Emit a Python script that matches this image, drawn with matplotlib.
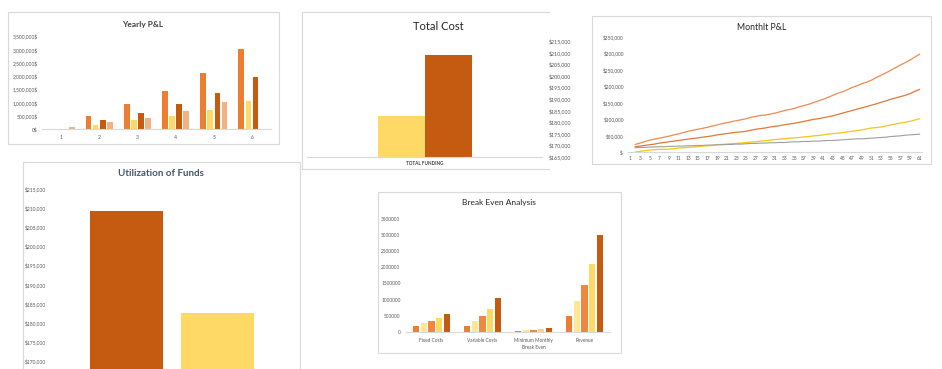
import numpy as np
import matplotlib
matplotlib.use("Agg")
import matplotlib.pyplot as plt
from matplotlib.patches import Rectangle
from matplotlib.lines import Line2D
from matplotlib.ticker import FuncFormatter

plt.rcParams['font.family'] = ['Lato', 'DejaVu Sans']

# ---------------- data ----------------
years = ["1", "2", "3", "4", "5", "6"]
yearly_s1 = [0, 500000, 950000, 1437000, 2112000, 3012000]
yearly_s2 = [0, 162000, 350000, 500000, 725000, 1062000]
yearly_s3 = [0, 350000, 612000, 950000, 1362000, 1962000]
yearly_s4 = [87000, 287000, 425000, 687000, 1025000, 0]

total_cost_category = ["TOTAL FUNDING"]
total_cost_values = [182400, 209000]

util_values = [209300, 182500]

months = list(range(1, 62))
nan = np.nan
monthly_s1 = [nan, 23000, 27000, 32000, 36000, 39000, 42000, 45000, 48000, 52000, 55000,
              59000, 63000, 66000, 69000, 72000, 75000, 79000, 82000, 86000, 89000,
              92000, 95000, 98000, 101000, 105000, 108000, 111000, 112000, 115000, 118000,
              122000, 126000, 129000, 132000, 137000, 141000, 145000, 150000, 155000, 160000,
              166000, 172000, 178000, 183000, 189000, 196000, 201000, 207000, 212000, 218000,
              226000, 233000, 240000, 248000, 256000, 264000, 271000, 279000, 288000, 297000]
monthly_s2 = [nan, 16000, 18000, 20000, 22000, 24000, 27000, 29000, 31000, 33000, 35000,
              37000, 39000, 41000, 43000, 45000, 47000, 49000, 52000, 54000, 56000,
              58000, 60000, 61000, 63000, 66000, 69000, 71000, 73000, 76000, 78000,
              80000, 83000, 85000, 87000, 90000, 93000, 96000, 99000, 101000, 104000,
              107000, 110000, 114000, 118000, 122000, 126000, 130000, 134000, 138000, 142000,
              146000, 151000, 155000, 160000, 164000, 168000, 172000, 177000, 184000, 190000]
monthly_s3 = [nan, 0, 2000, 4000, 6000, 7000, 8000, 8000, 9000, 10000, 12000,
              13000, 14000, 15000, 16000, 18000, 19000, 20000, 22000, 23000, 24000,
              25000, 26000, 27000, 29000, 30000, 31000, 33000, 34000, 36000, 38000,
              39000, 40000, 42000, 43000, 44000, 46000, 47000, 49000, 50000, 52000,
              54000, 56000, 57000, 59000, 61000, 63000, 65000, 67000, 70000, 73000,
              74000, 76000, 79000, 82000, 85000, 88000, 90000, 93000, 97000, 101000]
monthly_s4 = [nan, 13000, 14000, 14000, 15000, 15000, 16000, 16000, 17000, 17000, 18000,
              18000, 19000, 19000, 20000, 20000, 21000, 21000, 22000, 22000, 23000,
              23000, 24000, 24000, 25000, 26000, 26000, 27000, 27000, 28000, 28000,
              29000, 29000, 30000, 31000, 31000, 32000, 32000, 33000, 33000, 34000,
              35000, 35000, 36000, 37000, 38000, 39000, 40000, 40000, 41000, 42000,
              43000, 44000, 45000, 47000, 48000, 49000, 51000, 52000, 53000, 54000]

be_categories = ["Fixed Costs", "Variable Costs", "Minimum Monthly\nBreak Even", "Revenue"]
be_y1 = [185000, 185000, 30000, 500000]
be_y2 = [278000, 340000, 60000, 957000]
be_y3 = [350000, 494000, 70000, 1450000]
be_y4 = [432000, 710000, 90000, 2099000]
be_y5 = [556000, 1049000, 125000, 2994000]

# ---------------- layout helpers ----------------
W, H = 942, 369
fig = plt.figure(figsize=(W / 100, H / 100), dpi=100)
fig.patch.set_facecolor("white")


def box(x0, y0, x1, y1):
    return [x0 / W, 1 - y1 / H, (x1 - x0) / W, (y1 - y0) / H]


def panel(x0, y0, x1, y1, right=True):
    if right:
        fig.patches.append(Rectangle((x0 / W, 1 - y1 / H), (x1 - x0) / W, (y1 - y0) / H,
                                     transform=fig.transFigure, fill=False,
                                     edgecolor="#D9D9D9", linewidth=0.8, zorder=6))
    else:
        xs = [x1 / W, x0 / W, x0 / W, x1 / W]
        ys = [1 - y0 / H, 1 - y0 / H, 1 - y1 / H, 1 - y1 / H]
        fig.lines.append(Line2D(xs, ys, transform=fig.transFigure,
                                color="#D9D9D9", linewidth=0.8, zorder=6))


def ftext(x, y, s, **kw):
    fig.text(x / W, 1 - y / H, s, ha="center", va="center", **kw)


TICK = "#595959"
AXIS = "#D9D9D9"
ORANGE = "#ED7D31"
YELLOW = "#FFD966"
DARK = "#C55A11"
PEACH = "#F4B183"
PALE = "#FFE699"


def style(ax, fs=3.6):
    for s in ["top", "right", "left"]:
        ax.spines[s].set_visible(False)
    ax.spines["bottom"].set_color(AXIS)
    ax.spines["bottom"].set_linewidth(0.8)
    ax.tick_params(axis="both", length=0, labelsize=fs, labelcolor=TICK, pad=1.5)
    ax.set_facecolor("none")


# ---------------- Yearly P&L ----------------
panel(8, 12, 279, 144)
ax1 = fig.add_axes(box(42, 36, 271, 129.3))
style(ax1)
x = np.arange(1, 7)
step, bw = 0.1875, 0.148
for i, (vals, col) in enumerate([(yearly_s1, ORANGE), (yearly_s2, YELLOW),
                                 (yearly_s3, DARK), (yearly_s4, PEACH)]):
    ax1.bar(x + (i - 1.5) * step, vals, width=bw, color=col, edgecolor="none")
ax1.set_xlim(0.5, 6.5)
ax1.set_ylim(0, 3500000)
ax1.set_yticks(np.arange(0, 3500001, 500000))
ax1.yaxis.set_major_formatter(FuncFormatter(lambda v, p: f"{int(v):,}$"))
ax1.set_xticks(x)
ax1.set_xticklabels(years)
ax1.tick_params(axis="y", pad=3)
ax1.tick_params(axis="x", pad=4)
ftext(143, 24.5, "Yearly P&L", fontsize=6, color="#404040", fontweight="bold")

# ---------------- Total Cost ----------------
panel(302, 12, 549, 169, right=False)
ax2 = fig.add_axes(box(307, 41, 542, 156.7))
style(ax2)
ax2.bar([-0.1], [total_cost_values[0]], width=0.2, color=YELLOW, edgecolor="none")
ax2.bar([0.1], [total_cost_values[1]], width=0.2, color=DARK, edgecolor="none")
ax2.set_xlim(-0.5, 0.5)
ax2.set_ylim(165000, 215000)
ax2.yaxis.tick_right()
ax2.set_yticks(np.arange(165000, 215001, 5000))
ax2.yaxis.set_major_formatter(FuncFormatter(lambda v, p: f"${int(v):,}"))
ax2.set_xticks([0])
ax2.set_xticklabels(total_cost_category, fontweight="bold", color="#404040")
ax2.tick_params(axis="x", labelsize=3.3, pad=3)
ax2.tick_params(axis="y", pad=5, labelsize=3.8)
ftext(438.5, 26, "Total Cost", fontsize=8, color="#262626")

# ---------------- Monthly P&L ----------------
panel(592, 16, 931, 164)
ax3 = fig.add_axes(box(628, 36.7, 922, 152))
style(ax3, fs=3.5)
ax3.plot(months, monthly_s1, color="#EE8A50", lw=0.9)
ax3.plot(months, monthly_s2, color="#E07838", lw=0.9)
ax3.plot(months, monthly_s3, color="#F5C518", lw=0.9)
ax3.plot(months, monthly_s4, color="#9E9E9E", lw=0.8)
ax3.set_xlim(0.5, 61.5)
ax3.set_ylim(0, 350000)
ax3.set_yticks(np.arange(0, 350001, 50000))
ax3.yaxis.set_major_formatter(FuncFormatter(lambda v, p: "$-" if v == 0 else f"${int(v):,}"))
ax3.set_xticks(months[::2])
ax3.tick_params(axis="x", pad=3)
ax3.tick_params(axis="y", pad=3)
ftext(762, 27, "Monthlt P&L", fontsize=6.3, color="#262626")

# ---------------- Utilization of Funds ----------------
panel(22.5, 162, 299.5, 380)
ax4 = fig.add_axes(box(50, 188.7, 295, 380.1))
style(ax4)
ax4.spines["bottom"].set_visible(False)
ax4.bar([0], [util_values[0]], width=0.8, color=DARK, edgecolor="none")
ax4.bar([1], [util_values[1]], width=0.8, color=YELLOW, edgecolor="none")
ax4.set_xlim(-0.84, 1.85)
ax4.set_ylim(165000, 215000)
ax4.set_yticks(np.arange(170000, 215001, 5000))
ax4.yaxis.set_major_formatter(FuncFormatter(lambda v, p: f"${int(v):,}"))
ax4.set_xticks([])
ax4.tick_params(axis="y", pad=3)
ftext(161, 173, "Utilization of Funds", fontsize=7, color="#44546A", fontweight="bold")

# ---------------- Break Even Analysis ----------------
panel(378, 192, 621, 353)
ax5 = fig.add_axes(box(406, 218.7, 610, 332))
style(ax5, fs=3.4)
xc = np.arange(len(be_categories))
bstep, bbw = 0.155, 0.118
for i, (vals, col) in enumerate([(be_y1, ORANGE), (be_y2, PALE), (be_y3, "#EF8641"),
                                 (be_y4, YELLOW), (be_y5, DARK)]):
    ax5.bar(xc + (i - 2) * bstep, vals, width=bbw, color=col, edgecolor="none")
ax5.set_xlim(-0.5, 3.5)
ax5.set_ylim(0, 3500000)
ax5.set_yticks(np.arange(0, 3500001, 500000))
ax5.yaxis.set_major_formatter(FuncFormatter(lambda v, p: f"{int(v)}"))
ax5.set_xticks(xc)
ax5.set_xticklabels(be_categories, linespacing=1.5, va="top")
ax5.tick_params(axis="x", pad=4)
ax5.tick_params(axis="y", pad=4)
ftext(498.5, 202, "Break Even Analysis", fontsize=6, color="#262626")

fig.savefig("out.png", dpi=100, facecolor="white")
